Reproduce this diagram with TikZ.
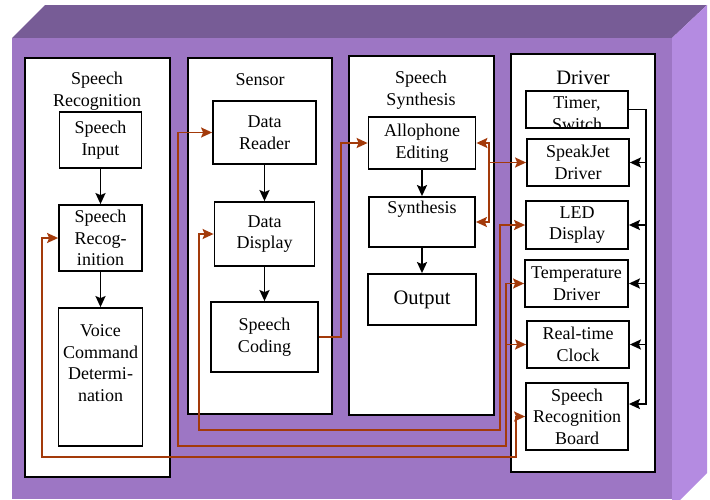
\documentclass[tikz,border=0pt]{standalone}
\usepackage{fontspec}
\setmainfont{Liberation Serif}
\usetikzlibrary{arrows.meta}
\definecolor{frontpurple}{RGB}{157,118,196}
\definecolor{toppurple}{RGB}{119,92,150}
\definecolor{sidepurple}{RGB}{180,139,225}
\definecolor{wirecol}{RGB}{163,58,10}

\begin{document}
\begin{tikzpicture}[x=1pt,y=-1pt,font=\fontsize{18}{21.5}\selectfont,
		panel/.style={draw,line width=2.6pt,fill=white},
		box/.style={draw,line width=1.8pt,fill=white,align=center,inner sep=0pt},
		lbl/.style={align=center,inner sep=0pt},
		big/.style={font=\fontsize{20.5}{24}\selectfont},
		arr/.style={line width=1.9pt,-{Stealth[length=11pt,width=10pt,inset=2pt]}},
		wire/.style={draw=wirecol,line width=1.6pt,-{Stealth[length=11pt,width=10pt,inset=2pt]}},
		wires/.style={wire,{Stealth[length=11pt,width=10pt,inset=2pt]}-{Stealth[length=11pt,width=10pt,inset=2pt]}}]
	\clip (0,0) rectangle (710,499);
	\fill[toppurple] (12,38) -- (45,5) -- (707,5) -- (672,38) -- cycle;
	\fill[sidepurple] (672,38) -- (707,5) -- (707,473) -- (672,508) -- cycle;
	\fill[frontpurple] (12,38) rectangle (672,499);

	\node[panel,minimum width=145,minimum height=419] (colrec) at (97.5,267.5) {};
	\node[panel,minimum width=144,minimum height=356] (colsen) at (260,236) {};
	\node[panel,minimum width=145,minimum height=359] (colsyn) at (421.5,235.5) {};
	\node[panel,minimum width=144,minimum height=418] (coldrv) at (583,263) {};

	\node[lbl] (trec) at (97,91) {Speech\\Recognition};
	\node[lbl] (tsen) at (260,80) {Sensor};
	\node[lbl] (tsyn) at (421,90) {Speech\\Synthesis};
	\node[lbl,big] (tdrv) at (583,78) {Driver};

	\node[box,minimum width=82,minimum height=56] (sin) at (100.5,140) {Speech\\Input};
	\node[box,minimum width=83,minimum height=66] (srec) at (100.5,238) {Speech\\Recog-\\inition};
	\node[box,minimum width=84,minimum height=138] (vcd) at (100.5,377) {};
	\node[lbl] (vcdt) at (100.5,363) {Voice\\Command\\Determi-\\nation};

	\node[box,minimum width=103,minimum height=63] (reader) at (264.5,132.5) {Data\\Reader};
	\node[box,minimum width=100,minimum height=64] (disp) at (264.5,234) {Data\\Display};
	\node[box,minimum width=107,minimum height=70] (coding) at (264.5,337) {Speech\\Coding};

	\node[box,minimum width=107,minimum height=52] (allo) at (422,143) {Allophone\\Editing};
	\node[box,minimum width=106,minimum height=50] (synth) at (422,222) {};
	\node[lbl] (syntht) at (422,209) {Synthesis};
	\node[box,big,minimum width=108,minimum height=51] (out) at (422,299.5) {Output};

	\node[box,minimum width=102,minimum height=37,path picture={
		\node[lbl] at ([yshift=-4pt]path picture bounding box.center) {Timer,\\Switch};}] (timer) at (577,109.5) {};
	\node[box,minimum width=102,minimum height=47] (speak) at (578,162.5) {SpeakJet\\Driver};
	\node[box,minimum width=102,minimum height=48] (led) at (577,225) {LED\\Display};
	\node[box,minimum width=103,minimum height=47] (temp) at (576.5,283.5) {Temperature\\Driver};
	\node[box,minimum width=102,minimum height=47] (rtc) at (578,344.5) {Real-time\\Clock};
	\node[box,minimum width=102,minimum height=67] (board) at (577,416.5) {Speech\\Recognition\\Board};

	\draw[arr] (sin) -- (srec);
	\draw[arr] (srec) -- (vcd);
	\draw[arr] (reader) -- (disp);
	\draw[arr] (disp) -- (coding);
	\draw[arr] (allo) -- (synth);
	\draw[arr] (synth) -- (out);

	\coordinate (bus) at (646,404);
	\draw[arr] (timer.east) -| (bus) -- (bus -| board.east);
	\foreach \n in {speak,led,temp,rtc}
		\draw[arr] (\n.east -| bus) -- (\n.east);

	\coordinate (j1) at (489,162.5);
	\draw[wires] (allo.east) -| (j1) |- (synth.east);
	\draw[wire] (j1) -- (speak.west);
	\draw[wire] (coding.east) -- ++(22,0) |- (allo.west);

	\coordinate (c1) at (199,430);
	\coordinate (c2) at (500,430);
	\draw[wires] (disp.west) -| (c1) -- (c2) |- (led.west);
	\coordinate (c3) at (178,446);
	\coordinate (c4) at (506,446);
	\draw[wires] (reader.west) -| (c3) -- (c4) |- (temp.west);
	\draw[wire] (c4) |- (rtc.west);
	\coordinate (c5) at (42,457);
	\coordinate (c6) at (516,457);
	\draw[wires] (srec.west) -| (c5) -- (c6) |- (board.west);
\end{tikzpicture}
\end{document}
